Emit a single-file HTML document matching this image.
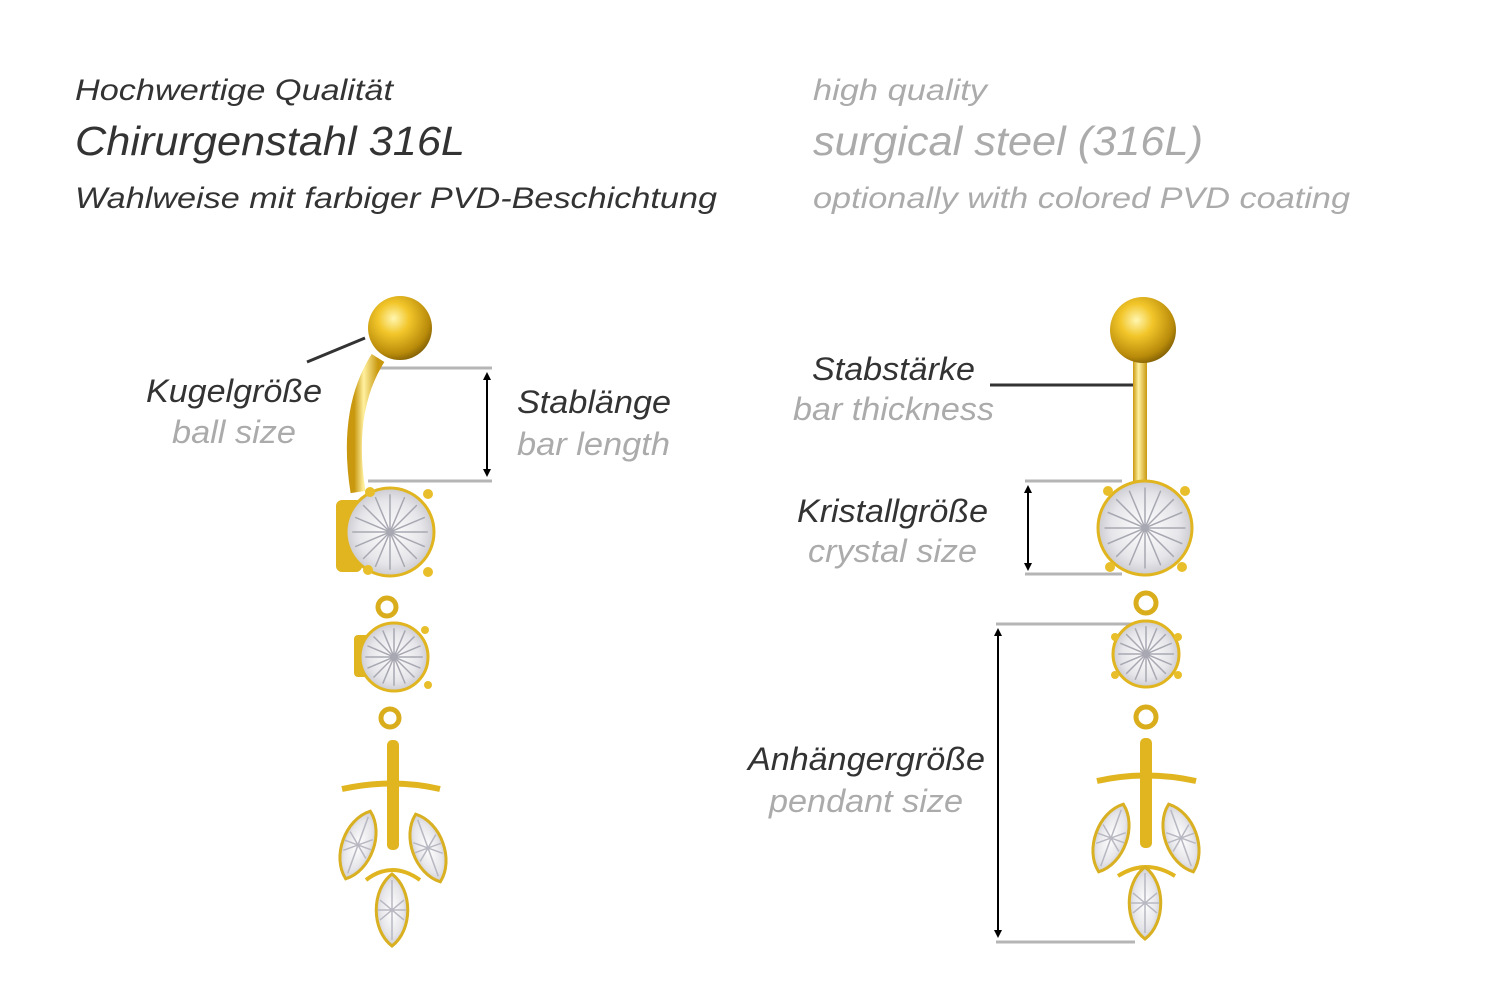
<!DOCTYPE html>
<html><head><meta charset="utf-8"><style>
html,body{margin:0;padding:0;background:#fff;}
svg{display:block;}
text{font-family:"Liberation Sans",sans-serif;font-style:italic;}
</style></head><body>
<svg width="1500" height="1001" viewBox="0 0 1500 1001" xmlns="http://www.w3.org/2000/svg">
<defs>
<radialGradient id="gold" cx="0.4" cy="0.35" r="0.7">
<stop offset="0" stop-color="#fff6b0"/><stop offset="0.35" stop-color="#f2c62a"/><stop offset="0.8" stop-color="#b88a0a"/><stop offset="1" stop-color="#7a5a05"/>
</radialGradient>
<linearGradient id="bar" x1="0" x2="1">
<stop offset="0" stop-color="#c9980f"/><stop offset="0.4" stop-color="#fff1a0"/><stop offset="1" stop-color="#c9980f"/>
</linearGradient>
<radialGradient id="gem" cx="0.5" cy="0.5" r="0.6">
<stop offset="0" stop-color="#ffffff"/><stop offset="0.6" stop-color="#e6e6ea"/><stop offset="1" stop-color="#b8b8c0"/>
</radialGradient>
<g id="marq"><path d="M0,-36 C21,-20 21,20 0,36 C-21,20 -21,-20 0,-36 Z" fill="url(#gem)" stroke="#d9b022" stroke-width="3"/><path d="M0,-30 L0,30 M-12,-10 L12,10 M12,-10 L-12,10 M-14,0 L14,0" stroke="#b8b8c2" stroke-width="1.5"/></g>
<g id="facet" stroke="#a8a8b2" stroke-width="1.5" fill="none">
<path d="M-0.9,0 L0.9,0 M0,-0.9 L0,0.9 M-0.64,-0.64 L0.64,0.64 M0.64,-0.64 L-0.64,0.64 M-0.35,-0.83 L0.35,0.83 M0.35,-0.83 L-0.35,0.83 M-0.83,-0.35 L0.83,0.35 M0.83,-0.35 L-0.83,0.35" vector-effect="non-scaling-stroke"/>
</g>
<marker id="ah" markerWidth="8" markerHeight="8" refX="4" refY="4" orient="auto-start-reverse" markerUnits="userSpaceOnUse"><path d="M0,0 L8,4 L0,8 z" fill="#000"/></marker>
</defs>

<g fill="#333">
<text x="75" y="100" font-size="30" textLength="318" lengthAdjust="spacingAndGlyphs">Hochwertige Qualität</text>
<text x="75" y="155" font-size="41" textLength="390" lengthAdjust="spacingAndGlyphs">Chirurgenstahl 316L</text>
<text x="75" y="208" font-size="30" textLength="642" lengthAdjust="spacingAndGlyphs">Wahlweise mit farbiger PVD-Beschichtung</text>
</g>
<g fill="#ababab">
<text x="813" y="100" font-size="30" textLength="174" lengthAdjust="spacingAndGlyphs">high quality</text>
<text x="813" y="155" font-size="41" textLength="390" lengthAdjust="spacingAndGlyphs">surgical steel (316L)</text>
<text x="813" y="208" font-size="30" textLength="537" lengthAdjust="spacingAndGlyphs">optionally with colored PVD coating</text>
</g>

<g font-size="32">
<text x="146" y="402" fill="#333" textLength="176" lengthAdjust="spacingAndGlyphs">Kugelgröße</text>
<text x="172" y="443" fill="#ababab" textLength="124" lengthAdjust="spacingAndGlyphs">ball size</text>
<text x="517" y="413" fill="#333" textLength="154" lengthAdjust="spacingAndGlyphs">Stablänge</text>
<text x="517" y="455" fill="#ababab" textLength="153" lengthAdjust="spacingAndGlyphs">bar length</text>
<text x="812" y="380" fill="#333" textLength="163" lengthAdjust="spacingAndGlyphs">Stabstärke</text>
<text x="793" y="420" fill="#ababab" textLength="201" lengthAdjust="spacingAndGlyphs">bar thickness</text>
<text x="797" y="522" fill="#333" textLength="191" lengthAdjust="spacingAndGlyphs">Kristallgröße</text>
<text x="808" y="562" fill="#ababab" textLength="169" lengthAdjust="spacingAndGlyphs">crystal size</text>
<text x="748" y="770" fill="#333" textLength="237" lengthAdjust="spacingAndGlyphs">Anhängergröße</text>
<text x="769" y="812" fill="#ababab" textLength="194" lengthAdjust="spacingAndGlyphs">pendant size</text>
</g>

<g stroke="#b5b5b5" stroke-width="3">
<line x1="372" y1="368" x2="492" y2="368"/><line x1="368" y1="481" x2="492" y2="481"/>
<line x1="1025" y1="481" x2="1122" y2="481"/><line x1="1025" y1="574" x2="1122" y2="574"/>
<line x1="996" y1="624" x2="1135" y2="624"/><line x1="996" y1="942" x2="1135" y2="942"/>
</g>
<g stroke="#000" stroke-width="2">
<line x1="487" y1="376" x2="487" y2="473" marker-start="url(#ah)" marker-end="url(#ah)"/>
<line x1="1028" y1="489" x2="1028" y2="567" marker-start="url(#ah)" marker-end="url(#ah)"/>
<line x1="998" y1="632" x2="998" y2="934" marker-start="url(#ah)" marker-end="url(#ah)"/>
</g>
<line x1="307" y1="362" x2="365" y2="338" stroke="#333" stroke-width="3"/>
<line x1="990" y1="385" x2="1133" y2="385" stroke="#333" stroke-width="3"/>

<!-- left jewelry -->
<path d="M378,358 Q345,410 358,492" stroke="url(#bar)" stroke-width="15" fill="none"/>
<circle cx="400" cy="328" r="32" fill="url(#gold)"/>
<rect x="336" y="500" width="26" height="72" rx="6" fill="#e0b520"/>
<circle cx="390" cy="532" r="44" fill="url(#gem)" stroke="#e0b520" stroke-width="3"/>
<use href="#facet" transform="translate(390,532) scale(42)"/>
<g fill="#e8bf2a"><circle cx="370" cy="492" r="5"/><circle cx="428" cy="494" r="5"/><circle cx="428" cy="572" r="5"/><circle cx="368" cy="570" r="5"/></g>
<circle cx="387" cy="607" r="9" fill="none" stroke="#d9ad1c" stroke-width="5"/>
<rect x="354" y="635" width="18" height="42" rx="4" fill="#e0b520"/>
<circle cx="394" cy="657" r="34" fill="url(#gem)" stroke="#e0b520" stroke-width="3"/>
<use href="#facet" transform="translate(394,657) scale(32)"/>
<g fill="#e8bf2a"><circle cx="425" cy="630" r="4"/><circle cx="428" cy="685" r="4"/></g>
<circle cx="390" cy="718" r="9" fill="none" stroke="#d9ad1c" stroke-width="5"/>
<rect x="387" y="740" width="12" height="110" rx="5" fill="#e0b520"/>
<path d="M342,789 Q392,778 440,789" stroke="#e0b520" stroke-width="6" fill="none"/>
<path d="M366,880 Q392,860 420,880" stroke="#e0b520" stroke-width="4" fill="none"/>
<use href="#marq" transform="translate(358,845) rotate(20)"/>
<use href="#marq" transform="translate(428,848) rotate(-20)"/>
<use href="#marq" transform="translate(392,910)"/>

<!-- right jewelry -->
<rect x="1133" y="350" width="14" height="135" fill="url(#bar)"/>
<circle cx="1143" cy="330" r="33" fill="url(#gold)"/>
<circle cx="1145" cy="528" r="47" fill="url(#gem)" stroke="#e0b520" stroke-width="3"/>
<use href="#facet" transform="translate(1145,528) scale(45)"/>
<g fill="#e8bf2a"><circle cx="1108" cy="491" r="5"/><circle cx="1185" cy="491" r="5"/><circle cx="1110" cy="567" r="5"/><circle cx="1182" cy="567" r="5"/></g>
<circle cx="1146" cy="603" r="10" fill="none" stroke="#d9ad1c" stroke-width="5"/>
<circle cx="1146" cy="654" r="33" fill="url(#gem)" stroke="#e0b520" stroke-width="3"/>
<use href="#facet" transform="translate(1146,654) scale(31)"/>
<g fill="#e8bf2a"><circle cx="1115" cy="637" r="4"/><circle cx="1178" cy="637" r="4"/><circle cx="1115" cy="675" r="4"/><circle cx="1178" cy="675" r="4"/></g>
<circle cx="1146" cy="717" r="10" fill="none" stroke="#d9ad1c" stroke-width="5"/>
<rect x="1140" y="738" width="12" height="110" rx="5" fill="#e0b520"/>
<path d="M1097,781 Q1146,770 1196,781" stroke="#e0b520" stroke-width="6" fill="none"/>
<path d="M1118,876 Q1146,858 1175,876" stroke="#e0b520" stroke-width="4" fill="none"/>
<use href="#marq" transform="translate(1111,838) rotate(20)"/>
<use href="#marq" transform="translate(1181,838) rotate(-20)"/>
<use href="#marq" transform="translate(1145,903)"/>
</svg>
</body></html>
